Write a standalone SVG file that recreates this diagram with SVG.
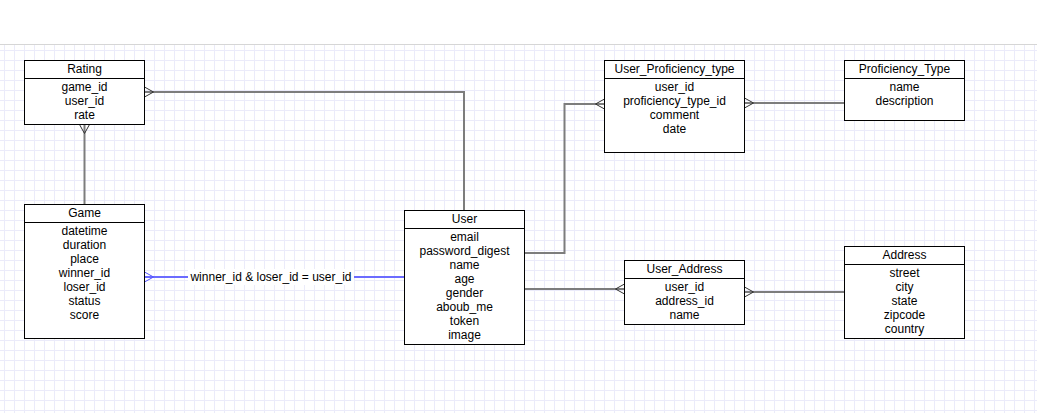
<svg xmlns="http://www.w3.org/2000/svg" width="1037" height="413" viewBox="0 0 1037 413">
<defs>
<pattern id="grid" patternUnits="userSpaceOnUse" x="4" y="50" width="10" height="10">
<path d="M0.5 0 V10 M0 0.5 H10" stroke="#ebebfa" stroke-width="1" fill="none"/>
</pattern>
<style>
.box{fill:#fff;stroke:#000;stroke-width:1}
.sep{stroke:#000;stroke-width:1}
text{font-family:"Liberation Sans",Arial,Helvetica,sans-serif;font-size:12px;fill:#000;text-anchor:middle}
.gl{fill:none;stroke:#7d7d7d;stroke-width:2}
.bl{fill:none;stroke:#6b6bff;stroke-width:2}
.gf{fill:none;stroke:#333;stroke-width:1}
.bf{fill:none;stroke:#5555ff;stroke-width:1}
</style>
</defs>
<rect x="0" y="0" width="1037" height="413" fill="#fff"/>
<rect x="0" y="44" width="1037" height="369" fill="url(#grid)"/>
<line x1="0" y1="44.5" x2="1037" y2="44.5" stroke="#d6d6d6" stroke-width="1"/>

<g id="connectors">
<path class="gl" d="M144.5 92 H464 V210"/>
<path class="gf" d="M144.5 87 L153.5 92 L144.5 97"/>
<path class="gl" d="M84.5 124.5 V204"/>
<path class="gf" d="M79.5 124.5 L84.5 133.5 L89.5 124.5"/>
<path class="bl" d="M144.5 277 H404.5"/>
<path class="bf" d="M144.5 272 L153.5 277 L144.5 282"/>
<rect x="188" y="269" width="166" height="16" fill="#fff"/>
<text x="271" y="281">winner_id &amp; loser_id = user_id</text>
<path class="gl" d="M524.5 253 H564.5 V104 H604.5"/>
<path class="gf" d="M604.5 99 L595.5 104 L604.5 109"/>
<path class="gl" d="M744.5 103 H844.5"/>
<path class="gf" d="M744.5 98 L753.5 103 L744.5 108"/>
<path class="gl" d="M524.5 289 H624.5"/>
<path class="gf" d="M624.5 284 L615.5 289 L624.5 294"/>
<path class="gl" d="M744.5 292 H844.5"/>
<path class="gf" d="M744.5 287 L753.5 292 L744.5 297"/>
</g>

<g id="rating">
<rect class="box" x="24.5" y="60.5" width="120" height="64"/>
<line class="sep" x1="24.5" y1="78.5" x2="144.5" y2="78.5"/>
<text x="84.5" y="73">Rating</text>
<text x="84.5" y="91">game_id</text>
<text x="84.5" y="105">user_id</text>
<text x="84.5" y="119">rate</text>
</g>

<g id="game">
<rect class="box" x="24.5" y="204.5" width="120" height="134"/>
<line class="sep" x1="24.5" y1="222.5" x2="144.5" y2="222.5"/>
<text x="84.5" y="217">Game</text>
<text x="84.5" y="235">datetime</text>
<text x="84.5" y="249">duration</text>
<text x="84.5" y="263">place</text>
<text x="84.5" y="277">winner_id</text>
<text x="84.5" y="291">loser_id</text>
<text x="84.5" y="305">status</text>
<text x="84.5" y="319">score</text>
</g>

<g id="user">
<rect class="box" x="404.5" y="210.5" width="120" height="134"/>
<line class="sep" x1="404.5" y1="228.5" x2="524.5" y2="228.5"/>
<text x="464.5" y="223">User</text>
<text x="464.5" y="241">email</text>
<text x="464.5" y="255">password_digest</text>
<text x="464.5" y="269">name</text>
<text x="464.5" y="283">age</text>
<text x="464.5" y="297">gender</text>
<text x="464.5" y="311">aboub_me</text>
<text x="464.5" y="325">token</text>
<text x="464.5" y="339">image</text>
</g>

<g id="user_proficiency_type">
<rect class="box" x="604.5" y="60.5" width="140" height="92"/>
<line class="sep" x1="604.5" y1="78.5" x2="744.5" y2="78.5"/>
<text x="674.5" y="73">User_Proficiency_type</text>
<text x="674.5" y="91">user_id</text>
<text x="674.5" y="105">proficiency_type_id</text>
<text x="674.5" y="119">comment</text>
<text x="674.5" y="133">date</text>
</g>

<g id="proficiency_type">
<rect class="box" x="844.5" y="60.5" width="120" height="60"/>
<line class="sep" x1="844.5" y1="78.5" x2="964.5" y2="78.5"/>
<text x="904.5" y="73">Proficiency_Type</text>
<text x="904.5" y="91">name</text>
<text x="904.5" y="105">description</text>
</g>

<g id="user_address">
<rect class="box" x="624.5" y="260.5" width="120" height="64"/>
<line class="sep" x1="624.5" y1="278.5" x2="744.5" y2="278.5"/>
<text x="684.5" y="273">User_Address</text>
<text x="684.5" y="291">user_id</text>
<text x="684.5" y="305">address_id</text>
<text x="684.5" y="319">name</text>
</g>

<g id="address">
<rect class="box" x="844.5" y="246.5" width="120" height="92"/>
<line class="sep" x1="844.5" y1="264.5" x2="964.5" y2="264.5"/>
<text x="904.5" y="259">Address</text>
<text x="904.5" y="277">street</text>
<text x="904.5" y="291">city</text>
<text x="904.5" y="305">state</text>
<text x="904.5" y="319">zipcode</text>
<text x="904.5" y="333">country</text>
</g>
</svg>
